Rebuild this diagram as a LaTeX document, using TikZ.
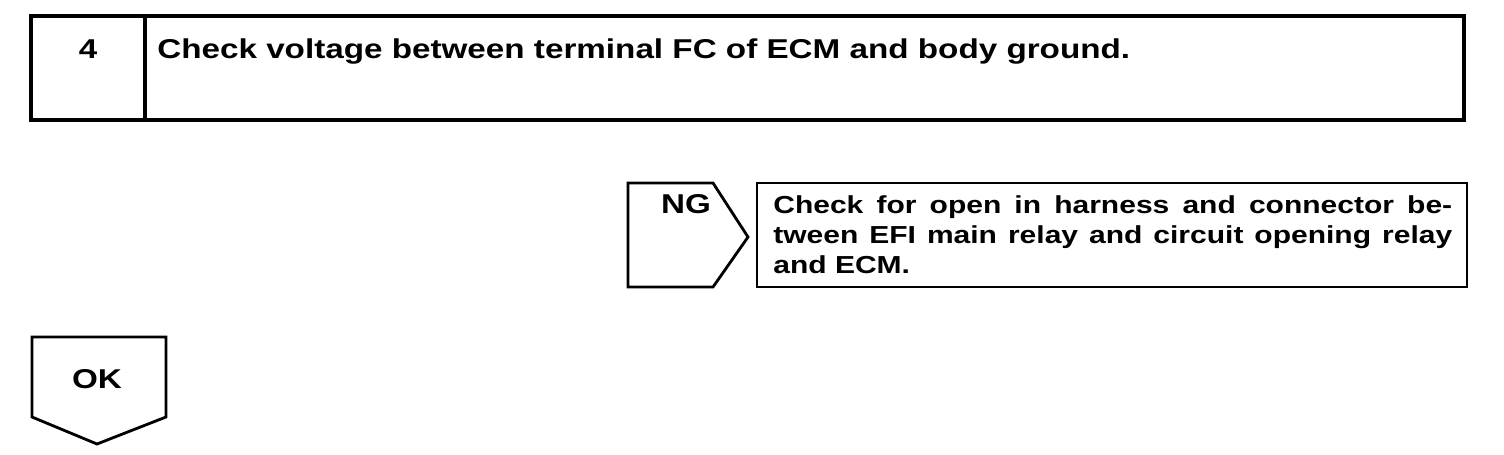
\documentclass[tikz,border=0pt]{standalone}
\usepackage{fontspec}
\setmainfont{Liberation Sans}[FakeStretch=1.22]
\usepackage{tikz}

\begin{document}
\begin{tikzpicture}[
  x=0.02cm, y=-0.02cm,
  frame/.style={draw, line width=2.2pt},
  tab/.style={draw, line width=1.6pt, line join=miter},
  lbl/.style={inner sep=0pt, font=\bfseries\fontsize{15.5}{17}\selectfont},
  txt/.style={inner sep=0pt, anchor=base west, font=\bfseries\fontsize{14}{17}\selectfont}
]
  \useasboundingbox (0,0) rectangle (1504,454);

  % step header
  \path[frame] (31,16) rectangle (1464,120);
  \draw[frame] (145,16) -- (145,120);
  \node[lbl, anchor=base] (stepno) at (88,58) {4};
  \node[lbl, anchor=base west] (steptitle) at (157,58) {Check voltage between terminal FC of ECM and body ground.};

  % NG branch
  \draw[tab] (628,183) -- (713,183) -- (748,237) -- (713,287) -- (628,287) -- cycle;
  \node[lbl, anchor=base] (ng) at (686,213) {NG};
  \draw[tab] (757,183) rectangle (1467,287);
  \node[txt] (line1) at (773,213)
    {\makebox[13.58cm][s]{Check for open in harness and connector be-}};
  \node[txt] (line2) at (773,243)
    {\makebox[13.58cm][s]{tween EFI main relay and circuit opening relay}};
  \node[txt] (line3) at (773,273) {and ECM.};

  % OK branch
  \draw[tab] (32,337) -- (166,337) -- (166,417) -- (97,444) -- (32,417) -- cycle;
  \node[lbl, anchor=base] (ok) at (97,388) {OK};
\end{tikzpicture}
\end{document}
